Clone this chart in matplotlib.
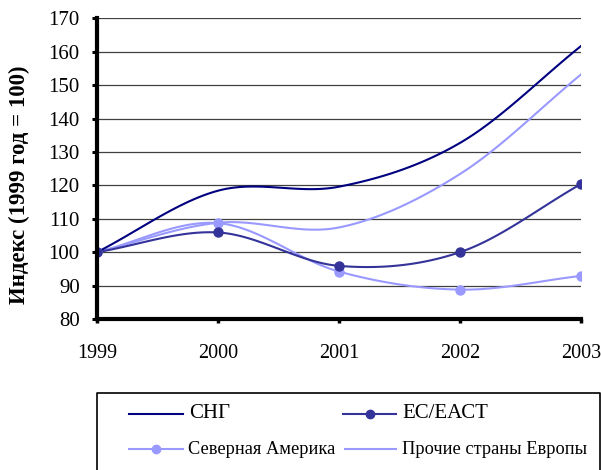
import numpy as np
import matplotlib
matplotlib.use('Agg')
from matplotlib import pyplot as plt

plt.rcParams['font.family'] = ['Liberation Serif', 'DejaVu Serif']

## data --------------------------------
years = [1999, 2000, 2001, 2002, 2003]
cis = [100, 118.4, 119.6, 132.7, 161.7]            # СНГ
eu_efta = [100, 105.9, 95.9, 100.0, 120.4]         # ЕС/ЕАСТ
north_america = [100, 108.7, 94.2, 88.8, 92.9]     # Северная Америка
other_europe = [100, 108.8, 107.4, 123.4, 153.2]   # Прочие страны Европы
y_ticks = [80, 90, 100, 110, 120, 130, 140, 150, 160, 170]


# excel style smoothed line (cardinal spline through the points)
def smooth(x, y, n=30):
    x = np.asarray(x, float)
    y = np.asarray(y, float)
    m = np.zeros_like(y)
    m[1:-1] = (y[2:] - y[:-2]) / (x[2:] - x[:-2])
    m[0] = (y[1] - y[0]) / (x[1] - x[0])
    m[-1] = (y[-1] - y[-2]) / (x[-1] - x[-2])
    xs, ys = [], []
    for i in range(len(x) - 1):
        h = x[i + 1] - x[i]
        t = np.linspace(0, 1, n, endpoint=(i == len(x) - 2))
        h00 = 2 * t**3 - 3 * t**2 + 1
        h10 = t**3 - 2 * t**2 + t
        h01 = -2 * t**3 + 3 * t**2
        h11 = t**3 - t**2
        xs.append(x[i] + t * h)
        ys.append(h00 * y[i] + h10 * h * m[i] + h01 * y[i + 1] + h11 * h * m[i + 1])
    return np.concatenate(xs), np.concatenate(ys)


fig = plt.figure(figsize=(6.01, 4.70), dpi=100)
ax_w = 581 - 97
ax_h = 319 - 18.3
ax = fig.add_axes([97 / 601, 1 - 319 / 470, ax_w / 601, ax_h / 470])

dark = '#000080'
mid = '#333399'
light = '#9999FF'

ax.plot(*smooth(years, other_europe), color=light, lw=1.5, zorder=3)
ax.plot(*smooth(years, north_america), color=light, lw=1.5, zorder=3)
ax.plot(years, north_america, 'o', color=light, ms=6.5, zorder=4)
ax.plot(*smooth(years, eu_efta), color=mid, lw=1.5, zorder=3)
ax.plot(years, eu_efta, 'o', color=mid, ms=6.5, zorder=4)
ax.plot(*smooth(years, cis), color=dark, lw=1.5, zorder=3)

ax.set_xlim(1999, 2003)
ax.set_ylim(80, 170)
ax.set_xticks(years)
ax.set_yticks(y_ticks)
ax.yaxis.grid(True, color='#404040', lw=0.9)
ax.set_axisbelow(True)
for side in ['top', 'right']:
    ax.spines[side].set_visible(False)
for side in ['left', 'bottom']:
    ax.spines[side].set_linewidth(3)
    ax.spines[side].set_zorder(5)
ax.tick_params(axis='y', direction='out', length=3.5, width=2.2, labelsize=15, pad=9)
ax.tick_params(axis='x', direction='out', length=3, width=2.5, labelsize=14.5, pad=15)
ax.set_ylabel('Индекс (1999 год = 100)', fontsize=16.5, fontweight='bold')
ax.yaxis.set_label_coords(-(97 - 30) / ax_w, (319 - 185) / ax_h)

# legend box, bottom edge runs off the picture
lg = fig.add_axes([0, 0, 1, 1], zorder=10)
lg.set_xlim(0, 601)
lg.set_ylim(470, 0)
lg.axis('off')
lg.plot([96.5, 96.5, 600, 600], [472, 393, 393, 472], color='black', lw=1.2, clip_on=False)

entries = [
    ('СНГ', dark, None, 129, 183, 413.5, 189, 15),
    ('ЕС/ЕАСТ', mid, 370, 343, 396, 413.5, 402, 15),
    ('Северная Америка', light, 156, 129, 183, 449, 188, 13.2),
    ('Прочие страны Европы', light, None, 345, 396, 449, 402, 13.2),
]
for label, col, mk, x0, x1, yy, tx, fs in entries:
    lg.plot([x0, x1], [yy, yy], color=col, lw=1.5)
    if mk is not None:
        lg.plot([mk], [yy], 'o', color=col, ms=6)
    lg.text(tx, yy, label, fontsize=fs, va='center', ha='left')

fig.savefig('out.png', dpi=100)
